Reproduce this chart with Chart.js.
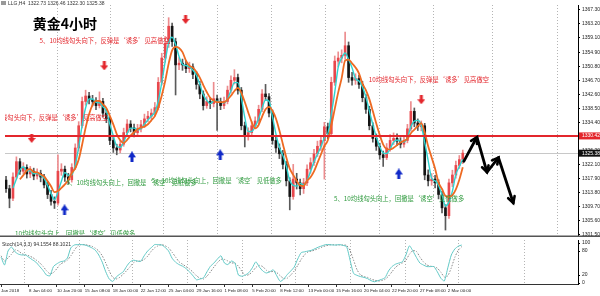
<!DOCTYPE html>
<html>
<head>
<meta charset="utf-8">
<script src="https://cdn.jsdelivr.net/npm/chart.js@4.4.1/dist/chart.umd.min.js"></script>
<style>
  html, body { margin:0; padding:0; background:#fff; }
  #wrap { position:relative; width:600px; height:296px; overflow:hidden; }
  canvas { position:absolute; left:0; }
  #c-main  { top:0; }
  #c-stoch { top:240px; }
</style>
</head>
<body>
<div id="wrap">
  <canvas id="c-main" width="600" height="240"></canvas>
  <canvas id="c-stoch" width="600" height="56"></canvas>
</div>
<script>
/* ── Data (XAUUSD H4, one bar ≈ 8h) ────────────────────────────────── */
const OPEN = [1317.5,1315.0,1312.2,1318.4,1322.9,1320.1,1321.2,1319.3,1320.1,1318.7,
  1319.5,1318.4,1316.1,1313.3,1311.3,1310.8,1320.1,1320.7,1318.4,1317.6,
  1321.2,1326.9,1333.4,1340.5,1342.1,1341.0,1340.5,1339.3,1340.5,1337.1,
  1335.4,1329.1,1326.9,1326.3,1328.0,1331.4,1333.9,1332.8,1331.4,1332.5,
  1333.7,1335.4,1336.2,1337.1,1338.7,1346.1,1353.2,1357.4,1362.5,1358.0,
  1351.2,1351.7,1351.2,1350.1,1350.6,1348.4,1345.5,1342.7,1339.3,1340.5,
  1339.9,1341.3,1340.5,1339.3,1340.5,1343.8,1346.7,1347.5,1343.8,1333.4,
  1330.3,1331.4,1333.4,1334.8,1338.2,1342.7,1341.9,1337.1,1329.1,1326.9,
  1325.2,1322.1,1317.3,1312.7,1317.8,1316.7,1315.0,1316.7,1320.7,1322.6,
  1325.2,1327.4,1329.1,1333.1,1331.1,1346.1,1352.3,1353.2,1354.0,1356.8,
  1347.5,1346.7,1347.2,1345.5,1341.6,1338.2,1333.4,1329.7,1327.4,1324.9,
  1324.1,1326.9,1329.1,1329.7,1328.9,1328.0,1329.1,1332.5,1337.6,1334.2,
  1333.1,1333.4,1319.0,1317.3,1317.8,1316.7,1313.3,1309.4,1307.1,1316.7,
  1319.0,1321.8,1323.5];
const HIGH = [1318.6,1316.0,1319.6,1324.3,1323.8,1322.6,1322.0,1321.5,1321.0,1320.8,
  1320.4,1319.2,1317.0,1314.5,1312.6,1324.9,1322.3,1321.6,1319.5,1322.3,
  1328.1,1334.6,1341.8,1343.8,1343.2,1342.3,1341.6,1343.3,1341.4,1338.3,
  1336.0,1330.3,1328.0,1329.2,1332.7,1335.2,1334.9,1333.9,1333.8,1335.0,
  1336.8,1337.6,1338.3,1340.2,1347.5,1354.6,1359.5,1365.0,1363.4,1359.0,
  1353.3,1352.9,1352.4,1352.0,1351.5,1349.3,1346.4,1343.6,1341.9,1341.6,
  1346.1,1342.4,1341.5,1341.8,1345.0,1348.0,1349.8,1348.5,1344.6,1334.5,
  1332.8,1334.6,1336.0,1339.4,1344.0,1345.5,1342.8,1338.0,1330.4,1328.1,
  1326.2,1323.0,1318.2,1322.1,1319.5,1317.8,1318.0,1322.0,1324.0,1326.5,
  1328.9,1330.5,1334.4,1334.2,1347.6,1353.8,1355.0,1355.6,1360.8,1357.9,
  1349.0,1348.6,1348.2,1346.4,1342.5,1339.1,1334.3,1331.0,1328.3,1326.0,
  1328.2,1330.8,1331.3,1331.0,1329.9,1330.4,1333.8,1340.5,1338.6,1335.4,
  1334.8,1334.1,1320.5,1319.4,1318.9,1317.6,1314.2,1310.3,1317.8,1320.4,
  1323.1,1324.7,1326.3];
const LOW = [1313.9,1309.4,1311.5,1317.8,1319.2,1319.4,1318.1,1318.2,1317.6,1317.8,
  1317.0,1315.2,1312.1,1310.2,1309.2,1310.2,1318.9,1317.1,1316.4,1316.9,
  1320.6,1326.0,1332.8,1339.4,1339.8,1339.2,1338.1,1338.6,1336.0,1334.3,
  1327.9,1325.6,1324.9,1325.5,1327.4,1330.6,1331.6,1330.1,1330.4,1331.6,
  1332.9,1334.5,1335.3,1336.2,1338.0,1345.3,1352.0,1356.3,1356.6,1342.4,
  1349.8,1349.6,1348.9,1349.0,1347.2,1344.1,1341.3,1338.0,1338.5,1338.4,
  1338.9,1332.0,1338.1,1338.4,1339.8,1343.0,1345.6,1342.6,1332.2,1327.2,
  1329.2,1330.5,1332.6,1334.0,1337.5,1340.8,1336.0,1328.0,1325.6,1323.8,
  1320.8,1315.8,1308.8,1311.9,1314.9,1313.2,1313.6,1315.9,1319.5,1321.8,
  1324.4,1326.2,1317.8,1329.6,1330.3,1345.2,1350.6,1351.8,1352.9,1346.1,
  1345.3,1345.5,1344.3,1340.4,1337.0,1332.2,1328.6,1326.2,1323.6,1321.5,
  1323.5,1326.0,1327.9,1327.6,1326.9,1327.1,1328.4,1331.8,1333.1,1332.0,
  1331.9,1317.6,1315.8,1316.0,1315.2,1312.0,1307.9,1302.9,1306.3,1315.6,
  1318.1,1320.9,1322.3];
const CLOSE = [1315.0,1312.2,1318.4,1322.9,1320.1,1321.2,1319.3,1320.1,1318.7,1319.5,
  1318.4,1316.1,1313.3,1311.3,1310.8,1320.1,1320.7,1318.4,1317.6,1321.2,
  1326.9,1333.4,1340.5,1342.1,1341.0,1340.5,1339.3,1340.5,1337.1,1335.4,
  1329.1,1326.9,1326.3,1328.0,1331.4,1333.9,1332.8,1331.4,1332.5,1333.7,
  1335.4,1336.2,1337.1,1338.7,1346.1,1353.2,1357.4,1362.5,1358.0,1351.2,
  1351.7,1351.2,1350.1,1350.6,1348.4,1345.5,1342.7,1339.3,1340.5,1339.9,
  1341.3,1340.5,1339.3,1340.5,1343.8,1346.7,1347.5,1343.8,1333.4,1330.3,
  1331.4,1333.4,1334.8,1338.2,1342.7,1341.9,1337.1,1329.1,1326.9,1325.2,
  1322.1,1317.3,1312.7,1317.8,1316.7,1315.0,1316.7,1320.7,1322.6,1325.2,
  1327.4,1329.1,1333.1,1331.1,1346.1,1352.3,1353.2,1354.0,1356.8,1347.5,
  1346.7,1347.2,1345.5,1341.6,1338.2,1333.4,1329.7,1327.4,1324.9,1324.1,
  1326.9,1329.1,1329.7,1328.9,1328.0,1329.1,1332.5,1337.6,1334.2,1333.1,
  1333.4,1319.0,1317.3,1317.8,1316.7,1313.3,1309.4,1307.1,1316.7,1319.0,
  1321.8,1323.5,1325.4];

// Stochastic(14,3,3): main + signal, one value per bar
const STOCH_MAIN = [65,45,80,90,78,72,70,70,64,58,52,42,32,20,18,41,48,53,55,62,
  88,95,96,96,95,92,88,82,70,52,28,10,4,15,22,28,42,53,57,55,
  54,68,80,88,96,96,95,89,80,62,52,46,42,36,28,18,8,10,13,28,
  42,50,60,68,50,46,55,50,20,17,20,26,38,53,40,30,25,28,33,18,
  4,10,21,30,40,60,76,78,80,82,86,90,93,96,96,95,95,96,94,91,
  57,24,19,16,14,11,6,3,6,9,13,30,41,47,50,53,70,93,80,64,
  50,45,41,41,41,28,12,5,38,70,85,92,95];
const STOCH_SIGNAL = [68,55,63,72,83,80,73,71,68,64,58,51,42,31,23,26,36,47,52,57,
  68,82,93,96,96,94,92,87,80,68,50,30,14,10,14,22,31,41,51,55,
  55,59,67,79,88,93,96,93,88,77,65,53,47,41,35,27,18,12,10,17,
  28,40,51,59,59,55,50,50,42,29,19,21,28,39,44,41,32,28,29,26,
  18,11,12,20,30,44,59,71,78,80,83,86,90,93,95,96,95,95,95,94,
  81,57,33,20,16,14,10,7,5,6,9,17,28,39,46,50,57,72,81,79,
  65,53,45,42,41,37,27,15,18,38,64,82,91];

const X_LABELS   = ["Jan 2018","8 Jan 04:00","10 Jan 20:00","15 Jan 08:00","18 Jan 00:00",
  "22 Jan 12:00","25 Jan 04:00","29 Jan 16:00","1 Feb 08:00","5 Feb 20:00","8 Feb 12:00",
  "13 Feb 00:00","15 Feb 16:00","20 Feb 04:00","22 Feb 20:00","27 Feb 08:00","2 Mar 00:00"];
const X_LABEL_AT = [0,8,16,24,32,40,48,56,64,72,80,88,96,104,112,120,128];
const WEEK_LINES = [6.86,22.62,37.8,53.3,69.04,84.5,100.0,115.75,131.2,149.9];

const PRICE_TICKS = [1367.30,1363.20,1359.10,1354.90,1350.80,1346.70,1342.60,1338.50,
  1334.40,1330.30,1326.20,1322.10,1317.90,1313.80,1309.70,1305.60,1301.50];
const STOCH_TICKS = [0,20,80,100];

const LEVEL_RED  = 1330.42;
const LAST_PRICE = 1325.38;
const HEADER = "LLG,H4  1322.73 1326.46 1322.30 1325.38";
const STOCH_HEADER = "Stoch(14,3,3) 94.1554 88.1021";

// projected path (black zig-zag)
const ZIGZAG_X = [132.3,136.1,139.0,142.3,146.6];
const ZIGZAG_Y = [1323.0,1330.1,1319.8,1324.1,1310.8];

// signal arrows
const SELL_X = [7.4,28.4,51.9,120.0];
const SELL_Y = [1329.7,1350.9,1364.5,1341.0];
const BUY_X  = [16.9,36.4,61.9,113.5];
const BUY_Y  = [1308.8,1324.3,1324.9,1319.3];

/* ── Styling ───────────────────────────────────────────────────────── */
const RED = "#e3262c", GREEN = "#2f9a3e";
const AX_FONT = { size:5, family:"Liberation Sans" };
const X_FONT  = { size:4.4, family:"Liberation Sans" };
const X_MIN = -0.3, X_MAX = 165.3;
const RED_TXT   = "5、10均线勾头向下，反弹是‘诱多’见高做空";
const GREEN_TXT = "5、10均线勾头向上，回撤是‘诱空’见低做多";

const NOTES = [
  { x:7.7,   p:1363.3, text:"黄金4小时", color:"#000", font:'bold 14px "Noto Sans CJK SC"' },
  { x:9.7,   p:1358.3, text:RED_TXT, color:RED },
  { x:29.5,  p:1335.9, text:RED_TXT, color:RED, align:"right" },
  { x:104.8, p:1346.9, text:"10均线勾头向下，反弹是‘诱多’见高做空", color:RED },
  { x:17.5,  p:1316.7, text:GREEN_TXT, color:GREEN },
  { x:42.1,  p:1317.5, text:GREEN_TXT, color:GREEN },
  { x:2.6,   p:1302.0, text:"10均线勾头向上，回撤是‘诱空’见低做多", color:GREEN },
  { x:94.8,  p:1312.2, text:GREEN_TXT, color:GREEN },
];

function sma(arr, n) {
  return arr.map((_, i) => {
    if (i < n - 1) return null;
    let s = 0;
    for (let k = i - n + 1; k <= i; k++) s += arr[k];
    return s / n;
  });
}

function makeArrow(color, up, w, h) {
  const c = document.createElement("canvas");
  c.width = w; c.height = h;
  const g = c.getContext("2d");
  g.fillStyle = color;
  g.save();
  if (up) { g.translate(0, h); g.scale(1, -1); }
  const sw = 3, hh = Math.round(h * 0.5);
  g.fillRect((w - sw) / 2, 0, sw, h - hh + 1);
  g.beginPath();
  g.moveTo(0, h - hh); g.lineTo(w, h - hh); g.lineTo(w / 2, h);
  g.closePath(); g.fill();
  g.restore();
  return c;
}

function killPadding(s) {
  s.paddingTop = 0; s.paddingBottom = 0; s.paddingLeft = 0; s.paddingRight = 0;
}

/* ── Main chart ───────────────────────────────────────────────────── */
const idx = CLOSE.map((_, i) => i);
const isUp = idx.map(i => CLOSE[i] >= OPEN[i]);
const ma5  = sma(CLOSE, 3);
const ma10 = sma(CLOSE, 5);

const overlay = {
  id: "overlay",
  beforeDatasetsDraw(chart) {
    const { ctx, chartArea:a, scales:{ y } } = chart;
    const yp = Math.round(y.getPixelForValue(LAST_PRICE)) + 0.5;
    ctx.save();
    ctx.strokeStyle = "#c8c8c8"; ctx.lineWidth = 1;
    ctx.beginPath(); ctx.moveTo(a.left, yp); ctx.lineTo(a.right, yp); ctx.stroke();
    ctx.restore();
  },
  afterDatasetsDraw(chart) {
    const { ctx, chartArea:a, scales:{ x, y } } = chart;
    ctx.save();
    ctx.beginPath(); ctx.rect(a.left, a.top, a.width, a.height); ctx.clip();

    // resistance level
    const yr = Math.round(y.getPixelForValue(LEVEL_RED));
    ctx.strokeStyle = RED; ctx.lineWidth = 2;
    ctx.beginPath(); ctx.moveTo(a.left, yr); ctx.lineTo(a.right, yr); ctx.stroke();

    // arrowheads on the zig-zag
    const pts = chart.getDatasetMeta(chart.data.datasets.findIndex(d => d.label === "zigzag")).data;
    ctx.strokeStyle = "#000"; ctx.lineWidth = 2.6; ctx.lineCap = "round";
    for (let k = 1; k < pts.length; k++) {
      const p0 = pts[k - 1], p1 = pts[k];
      const ang = Math.atan2(p1.y - p0.y, p1.x - p0.x);
      const L = 7, spread = 0.5;
      ctx.beginPath();
      ctx.moveTo(p1.x - L * Math.cos(ang - spread), p1.y - L * Math.sin(ang - spread));
      ctx.lineTo(p1.x, p1.y);
      ctx.lineTo(p1.x - L * Math.cos(ang + spread), p1.y - L * Math.sin(ang + spread));
      ctx.stroke();
    }

    // text notes
    ctx.textBaseline = "middle";
    NOTES.forEach(n => {
      ctx.font = n.font || '6.3px "Noto Sans CJK SC"';
      ctx.fillStyle = n.color;
      ctx.textAlign = n.align || "left";
      ctx.fillText(n.text, x.getPixelForValue(n.x), y.getPixelForValue(n.p));
    });
    ctx.restore();
  },
  afterDraw(chart) {
    const { ctx, chartArea:a, scales:{ y } } = chart;
    ctx.save();
    ctx.font = '5px "Liberation Sans"';
    ctx.textBaseline = "middle"; ctx.textAlign = "left";
    // axis price boxes
    const box = (v, bg) => {
      const yp = y.getPixelForValue(v);
      ctx.fillStyle = bg; ctx.fillRect(a.right + 1, yp - 3.5, 21, 7);
      ctx.fillStyle = "#fff"; ctx.fillText(v.toFixed(2), a.right + 4, yp);
    };
    box(LEVEL_RED, RED);
    box(LAST_PRICE, "#111");
    // header
    ctx.fillStyle = "#999"; ctx.fillRect(1, 1, 5, 4);
    ctx.fillStyle = "#333"; ctx.fillText(HEADER, 8, 3.2);
    // separator between panes
    ctx.fillStyle = "#555"; ctx.fillRect(0, a.bottom + 0.5, 600, 1.5);
    ctx.restore();
  }
};

new Chart(document.getElementById("c-main"), {
  type: "bar",
  data: {
    datasets: [
      { label:"wick", order:5, grouped:false, barThickness:1, borderWidth:0,
        data: idx.map(i => ({ x:i, y:[LOW[i], HIGH[i]] })),
        backgroundColor: idx.map(i => isUp[i] ? "#ec8c8e" : "#5a5a5a") },
      { label:"body", order:4, grouped:false, barThickness:2, borderWidth:0, minBarLength:1,
        data: idx.map(i => ({ x:i, y:[OPEN[i], CLOSE[i]] })),
        backgroundColor: idx.map(i => isUp[i] ? "#e8474c" : "#141414") },
      { type:"line", label:"ma5", order:3, borderColor:"#2fd3cf", borderWidth:1.4,
        pointRadius:0, cubicInterpolationMode:"monotone",
        data: idx.map(i => ({ x:i, y:ma5[i] })) },
      { type:"line", label:"ma10", order:2, borderColor:"#ee6a22", borderWidth:1.8,
        pointRadius:0, cubicInterpolationMode:"monotone",
        data: idx.map(i => ({ x:i, y:ma10[i] })) },
      { type:"scatter", label:"sell", order:1, pointRadius:4,
        pointStyle: makeArrow(RED, false, 8, 9),
        data: SELL_X.map((v, k) => ({ x:v, y:SELL_Y[k] })) },
      { type:"scatter", label:"buy", order:1, pointRadius:4,
        pointStyle: makeArrow("#1029c8", true, 8, 11),
        data: BUY_X.map((v, k) => ({ x:v, y:BUY_Y[k] })) },
      { type:"line", label:"zigzag", order:0, borderColor:"#000", borderWidth:2.8,
        pointRadius:0, tension:0, borderJoinStyle:"round", borderCapStyle:"round",
        data: ZIGZAG_X.map((v, k) => ({ x:v, y:ZIGZAG_Y[k] })) },
    ],
  },
  options: {
    responsive:false, animation:false, events:[],
    layout:{ padding:{ left:0, right:0, top:0, bottom:2 } },
    plugins:{ legend:{ display:false }, tooltip:{ enabled:false } },
    scales:{
      x:{ type:"linear", min:X_MIN, max:X_MAX, offset:false,
          afterBuildTicks: s => { s.ticks = WEEK_LINES.map(v => ({ value:v })); },
          afterFit: s => { s.height = 0; killPadding(s); },
          ticks:{ display:false },
          grid:{ color:"#b4b4b4", lineWidth:1, drawTicks:false },
          border:{ display:false, dash:[1,2] } },
      y:{ position:"right", min:1301.45, max:1368.71,
          afterBuildTicks: s => { s.ticks = PRICE_TICKS.map(v => ({ value:v })); },
          afterFit: s => { s.width = 22; killPadding(s); },
          ticks:{ font:AX_FONT, color:"#222", padding:2, autoSkip:false,
                  callback: v => v.toFixed(2) },
          grid:{ drawOnChartArea:false, tickLength:2, color:"#000" },
          border:{ color:"#000" } },
    },
  },
  plugins:[overlay],
});

/* ── Stochastic pane ──────────────────────────────────────────────── */
const stochTitle = {
  id: "stochTitle",
  afterDraw(chart) {
    const { ctx } = chart;
    ctx.save();
    ctx.font = '5px "Liberation Sans"';
    ctx.fillStyle = "#333"; ctx.textBaseline = "middle";
    ctx.fillText(STOCH_HEADER, 2, 4.5);
    ctx.restore();
  }
};

new Chart(document.getElementById("c-stoch"), {
  type: "line",
  data: {
    datasets: [
      { label:"main", borderColor:"#62c9c6", borderWidth:1, pointRadius:0, tension:0.2,
        data: STOCH_MAIN.map((v, i) => ({ x:i, y:v })) },
      { label:"signal", borderColor:"#8a8a8a", borderWidth:1, borderDash:[1.5,1.5],
        pointRadius:0, tension:0.2,
        data: STOCH_SIGNAL.map((v, i) => ({ x:i, y:v })) },
    ],
  },
  options: {
    responsive:false, animation:false, events:[],
    layout:{ padding:0 },
    plugins:{ legend:{ display:false }, tooltip:{ enabled:false } },
    scales:{
      xg:{ type:"linear", position:"bottom", min:X_MIN, max:X_MAX, offset:false,
           afterBuildTicks: s => { s.ticks = WEEK_LINES.map(v => ({ value:v })); },
           afterFit: s => { s.height = 0; killPadding(s); },
           ticks:{ display:false },
           grid:{ color:"#b4b4b4", lineWidth:1, drawTicks:false },
           border:{ display:false, dash:[1,2] } },
      x:{ type:"linear", position:"bottom", min:X_MIN, max:X_MAX, offset:false,
          afterBuildTicks: s => { s.ticks = X_LABEL_AT.map(v => ({ value:v })); },
          afterFit: s => { s.height = 12; killPadding(s); },
          ticks:{ font:X_FONT, color:"#222", align:"start", padding:1,
                  autoSkip:false, maxRotation:0,
                  callback: (v, i) => X_LABELS[i] },
          grid:{ drawOnChartArea:false, tickLength:3, color:"#333" },
          border:{ color:"#333" } },
      y:{ position:"right", min:-2.5, max:107.5,
          afterBuildTicks: s => { s.ticks = STOCH_TICKS.map(v => ({ value:v })); },
          afterFit: s => { s.width = 22; killPadding(s); },
          ticks:{ font:AX_FONT, color:"#222", padding:2, autoSkip:false },
          grid:{ drawOnChartArea:false, tickLength:2, color:"#000" },
          border:{ color:"#000" } },
    },
  },
  plugins:[stochTitle],
});
</script>
</body>
</html>
